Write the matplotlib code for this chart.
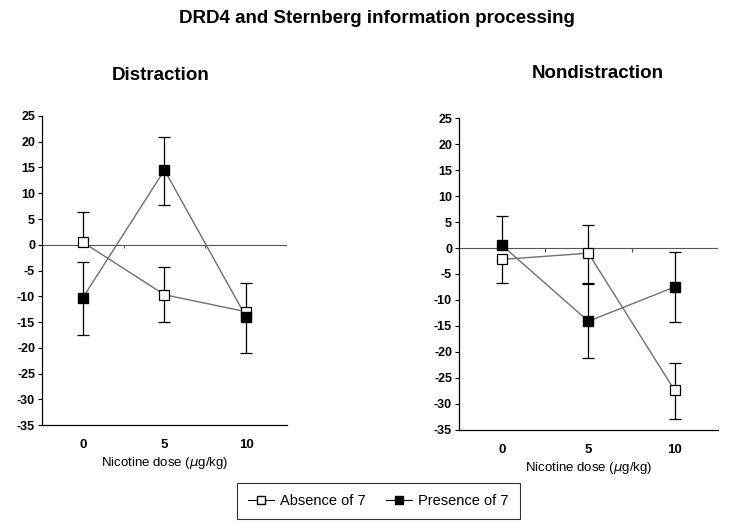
import numpy as np
import matplotlib
matplotlib.use("Agg")
import matplotlib.pyplot as plt
from matplotlib.lines import Line2D

plt.rcParams['font.family'] = ['Liberation Sans', 'DejaVu Sans']

# data (error bars as [lower, upper])
doses = ['0', '5', '10']
dist_absence = [0.5, -9.7, -13.0]
dist_absence_err = [[0, 5.3, 0], [5.8, 5.3, 5.6]]
dist_presence = [-10.3, 14.5, -14.0]
dist_presence_err = [[7.2, 6.8, 7.1], [7.0, 6.5, 0]]
nondist_absence = [-2.2, -1.0, -27.4]
nondist_absence_err = [[4.5, 5.8, 5.5], [0, 5.5, 5.3]]
nondist_presence = [0.5, -14.1, -7.5]
nondist_presence_err = [[0, 7.0, 6.7], [5.6, 7.1, 6.8]]
yticks = list(range(-35, 30, 5))


def draw_errors(ax, x, vals, err):
    """vertical bars with caps only on the sides that have a bar"""
    vals = np.array(vals)
    lo = vals - np.array(err[0])
    hi = vals + np.array(err[1])
    ax.vlines(x, lo, hi, color='black', lw=0.9, zorder=3)
    for ends, e in ((lo, err[0]), (hi, err[1])):
        keep = np.array(e) > 0
        ax.plot(x[keep], ends[keep], ls='none', marker='_', ms=8, mew=0.9,
                color='black', zorder=3)


def draw_panel(ax, absence, absence_err, presence, presence_err, title,
               title_x, title_pad):
    """Draw one excel-style panel"""
    x = np.arange(len(doses))
    ax.axhline(0, color='#555555', lw=0.8, zorder=1)
    # small category ticks on the zero line
    ax.vlines(x + 0.5, -0.7, 0, color='#555555', lw=0.8, zorder=1)
    ax.plot(x, absence, color='#707070', lw=1.0, zorder=2)
    ax.plot(x, presence, color='#707070', lw=1.0, zorder=2)
    draw_errors(ax, x, presence, presence_err)
    draw_errors(ax, x, absence, absence_err)
    ax.plot(x, absence, ls='none', marker='s', ms=7, mfc='white', mec='black',
            mew=0.9, zorder=4)
    ax.plot(x, presence, ls='none', marker='s', ms=7, mfc='black', mec='black',
            zorder=4)
    ax.set_xlim(-0.5, len(doses) - 0.5)
    ax.set_ylim(-35, 25)
    ax.set_yticks(yticks)
    ax.set_yticklabels([str(t) for t in yticks], fontweight='bold', fontsize=9)
    ax.set_xticks(x)
    ax.set_xticklabels(doses, fontweight='bold', fontsize=9.5)
    ax.tick_params(axis='x', length=0, pad=10)
    ax.tick_params(axis='y', length=3, width=0.8, pad=2)
    ax.spines['top'].set_visible(False)
    ax.spines['right'].set_visible(False)
    ax.spines['left'].set_linewidth(0.9)
    ax.spines['bottom'].set_linewidth(0.9)
    ax.set_xlabel('Nicotine dose ($\\mu$g/kg)', fontsize=9.5, labelpad=3)
    ax.set_title(title, fontweight='bold', fontsize=13.5, x=title_x,
                 pad=title_pad)


fig = plt.figure(figsize=(7.29, 5.32), dpi=100)
fig.text(0.517, 0.966, 'DRD4 and Sternberg information processing',
         ha='center', va='center', fontweight='bold', fontsize=13.5)

ax1 = fig.add_axes([0.0576, 0.201, 0.336, 0.581])
draw_panel(ax1, dist_absence, dist_absence_err, dist_presence,
           dist_presence_err, 'Distraction', 0.485, 26)

ax2 = fig.add_axes([0.6296, 0.192, 0.355, 0.586])
draw_panel(ax2, nondist_absence, nondist_absence_err, nondist_presence,
           nondist_presence_err, 'Nondistraction', 0.535, 29)

handles = [Line2D([], [], color='black', lw=0.8, marker='s', ms=6,
                  mfc='white', mec='black'),
           Line2D([], [], color='black', lw=0.8, marker='s', ms=6,
                  mfc='black', mec='black')]
leg = fig.legend(handles, ['Absence of 7', 'Presence of 7'], loc='center',
                 bbox_to_anchor=(0.519, 0.058), ncol=2, fontsize=10.5,
                 frameon=True, fancybox=False, edgecolor='black',
                 handlelength=1.8, handletextpad=0.4, columnspacing=1.4,
                 borderpad=0.75)
leg.get_frame().set_linewidth(0.8)

fig.savefig('out.png', dpi=100)
